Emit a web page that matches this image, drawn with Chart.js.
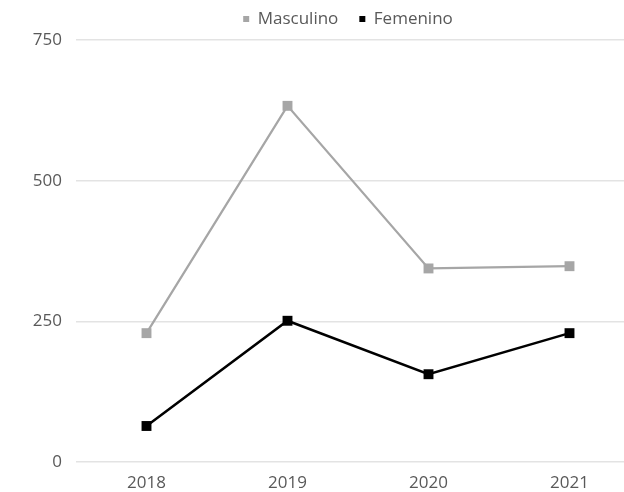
<!DOCTYPE html>
<html>
<head>
<meta charset="utf-8">
<script src="https://cdn.jsdelivr.net/npm/chart.js@4"></script>
<style>
  html, body { margin: 0; padding: 0; background: #fff; overflow: hidden; }
  #wrap { width: 624px; height: 492px; overflow: hidden; }
  #box { width: 696px; height: 492px; }
</style>
</head>
<body>
<div id="wrap"><div id="box"><canvas id="chart"></canvas></div></div>
<script>
const years = ['2018', '2019', '2020', '2021'];
const masculino = [229, 633, 344, 348];
const femenino = [64, 251, 156, 229];
const yTicks = [0, 250, 500, 750];

const textColor = '#595959';
const font = { family: '"Open Sans", sans-serif', size: 17 };

Chart.defaults.font.family = font.family;
Chart.defaults.color = textColor;

// nudge the legend to the right so it sits over the plot, not the canvas
const legendShift = {
    id: 'legendShift',
    afterLayout(chart) {
        chart.legend.left += 28;
        chart.legend.right += 28;
    }
};

const ctx = document.getElementById('chart').getContext('2d');
new Chart(ctx, {
    type: 'line',
    data: {
        labels: years,
        datasets: [
            {
                label: 'Masculino',
                data: masculino,
                borderColor: '#a6a6a6',
                backgroundColor: '#a6a6a6',
                pointBackgroundColor: '#a6a6a6',
                borderWidth: 2.25,
                pointStyle: 'rect',
                pointRadius: 7,
                pointBorderWidth: 0,
                tension: 0
            },
            {
                label: 'Femenino',
                data: femenino,
                borderColor: '#000000',
                backgroundColor: '#000000',
                pointBackgroundColor: '#000000',
                borderWidth: 2.5,
                pointStyle: 'rect',
                pointRadius: 7,
                pointBorderWidth: 0,
                tension: 0
            }
        ]
    },
    plugins: [legendShift],
    options: {
        responsive: true,
        maintainAspectRatio: false,
        animation: false,
        layout: {
            padding: { top: -10.5, left: 0, right: 56, bottom: 0 }
        },
        plugins: {
            legend: {
                position: 'top',
                labels: {
                    usePointStyle: true,
                    boxWidth: 6,
                    boxHeight: 6,
                    padding: 21,
                    color: textColor,
                    font: font
                }
            },
            // empty spacer between legend and plot
            subtitle: {
                display: true,
                text: '',
                weight: 500,
                padding: 0,
                font: { size: 2, lineHeight: 1.25 }
            },
            tooltip: { enabled: false }
        },
        scales: {
            x: {
                offset: true,
                grid: { display: false },
                border: { display: false },
                ticks: { color: textColor, font: font, padding: 3 },
                afterFit: (scale) => { scale.height = 30; }
            },
            y: {
                min: 0,
                max: 750,
                afterBuildTicks: (scale) => {
                    scale.ticks = yTicks.map(v => ({ value: v }));
                },
                grid: {
                    color: '#e3e3e3',
                    lineWidth: 1.5,
                    drawTicks: false
                },
                border: { display: false },
                ticks: { color: textColor, font: font, padding: 14 },
                afterFit: (scale) => { scale.width = 76; }
            }
        }
    }
});
</script>
</body>
</html>
